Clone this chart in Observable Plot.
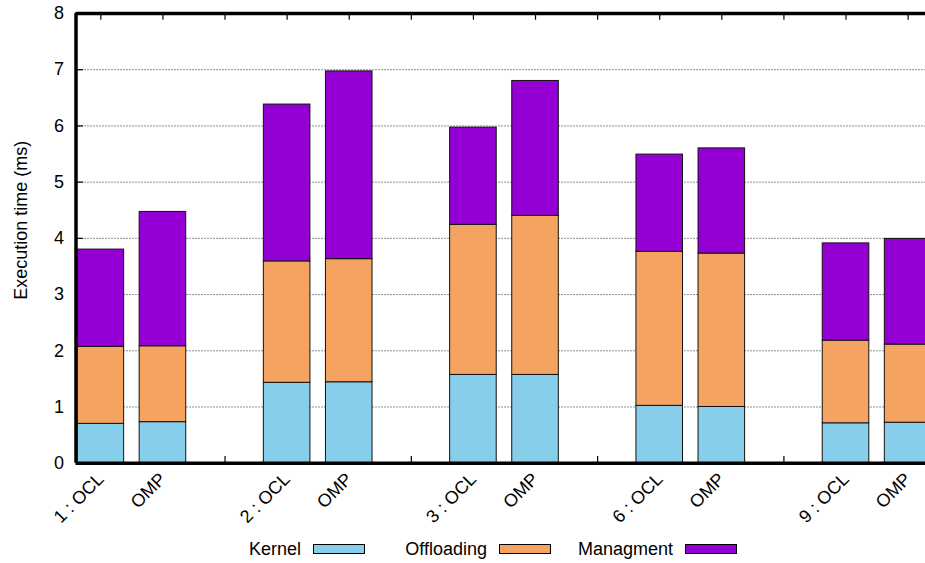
<!DOCTYPE html>
<html>
<head>
<meta charset="utf-8">
<script src="https://cdn.jsdelivr.net/npm/d3@7"></script>
<script src="https://cdn.jsdelivr.net/npm/@observablehq/plot@0.6"></script>
<style>
  html, body { margin: 0; padding: 0; background: white; overflow: hidden; }
  #chart { width: 925px; }
  .legend { position: relative; height: 33px; font-family: "Liberation Sans", Arial, sans-serif; font-size: 18px; color: black; }
  .legend .item { position: absolute; top: 9px; height: 20px; line-height: 20px; display: flex; align-items: center; justify-content: flex-end; width: 186px; }
  .legend .sw { width: 50px; height: 8px; border: 1px solid #000; margin-left: 12px; }
</style>
</head>
<body>
<div id="chart"></div>
<script>
// ---- data ----
const barLabels = ["1 : OCL", "OMP", "2 : OCL", "OMP", "3 : OCL", "OMP", "6 : OCL", "OMP", "9 : OCL", "OMP"];
const kernel     = [0.70, 0.73, 1.43, 1.44, 1.57, 1.57, 1.02, 1.00, 0.71, 0.72];
const offloading = [1.37, 1.35, 2.16, 2.19, 2.67, 2.83, 2.74, 2.73, 1.47, 1.39];
const managment  = [1.73, 2.39, 2.79, 3.34, 1.73, 2.40, 1.73, 1.87, 1.73, 1.88];
const seriesNames = ["Kernel", "Offloading", "Managment"];
const seriesColors = ["#87ceeb", "#f4a460", "#9400d3"];
const yTicks = [0, 1, 2, 3, 4, 5, 6, 7, 8];
const gridTicks = [1, 2, 3, 4, 5, 6, 7];

// ---- derived table ----
const seriesValues = [kernel, offloading, managment];
const pos = barLabels.map((_, i) => Math.floor(i / 2) * 3 + (i % 2));
const allSlots = d3.range(0, d3.max(pos) + 1);
const rects = [];
barLabels.forEach((lab, i) => {
  let cum = 0;
  seriesNames.forEach((s, k) => {
    const v = seriesValues[k][i];
    rects.push({pos: pos[i], series: s, y1: cum, y2: cum + v});
    cum += v;
  });
});
const labels = barLabels.map((t, i) => ({pos: pos[i], text: t}));

const xDomain = [-0.4, 13.28];
const half = 0.375;
const tickLenX = 0.12;
const tickLenY = 0.12;

const chart = Plot.plot({
  width: 925,
  height: 530,
  marginLeft: 75.5,
  marginRight: 0,
  marginTop: 13,
  marginBottom: 67.3,
  style: {fontFamily: "'Liberation Sans', Arial, sans-serif", fontSize: "18px", color: "black", background: "white"},
  x: {domain: xDomain, axis: null},
  y: {domain: [0, 8], ticks: yTicks, tickSize: 0, tickPadding: 12, label: null},
  color: {domain: seriesNames, range: seriesColors},
  marks: [
    Plot.ruleY(gridTicks, {stroke: "#222", strokeWidth: 1, strokeDasharray: "1,2"}),
    Plot.ruleY(gridTicks, {x1: xDomain[0], x2: xDomain[0] + tickLenX, stroke: "black", strokeWidth: 1.2}),
    Plot.ruleX(allSlots, {x: d => d, y1: 8, y2: 8 - tickLenY, stroke: "black", strokeWidth: 1.2}),
    Plot.ruleX(allSlots, {x: d => d, y1: 0, y2: tickLenY, stroke: "black", strokeWidth: 1.2}),
    Plot.rect(rects, {
      x1: d => d.pos - half, x2: d => d.pos + half,
      y1: "y1", y2: "y2", fill: "series",
      stroke: "#111", strokeWidth: 1, clip: true
    }),
    Plot.ruleY([0, 8], {stroke: "black", strokeWidth: 3.5}),
    Plot.ruleX([xDomain[0]], {stroke: "black", strokeWidth: 3.5}),
    Plot.text(labels, {
      x: "pos", text: "text", frameAnchor: "bottom",
      rotate: -45, textAnchor: "end", lineAnchor: "bottom",
      dx: 4, dy: 17, fontSize: 18
    }),
    Plot.text(["Execution time (ms)"], {
      frameAnchor: "left", rotate: -90, textAnchor: "middle", lineAnchor: "middle",
      dx: -55, dy: -18, fontSize: 18
    })
  ]
});
document.getElementById("chart").appendChild(chart);

// ---- legend (HTML, below the SVG) ----
const legend = document.createElement("div");
legend.className = "legend";
const colStarts = [179, 365, 551];
seriesNames.forEach((s, k) => {
  const item = document.createElement("div");
  item.className = "item";
  item.style.left = colStarts[k] + "px";
  const t = document.createElement("span");
  t.textContent = s;
  const sw = document.createElement("span");
  sw.className = "sw";
  sw.style.background = seriesColors[k];
  item.appendChild(t);
  item.appendChild(sw);
  legend.appendChild(item);
});
document.body.appendChild(legend);
</script>
</body>
</html>
